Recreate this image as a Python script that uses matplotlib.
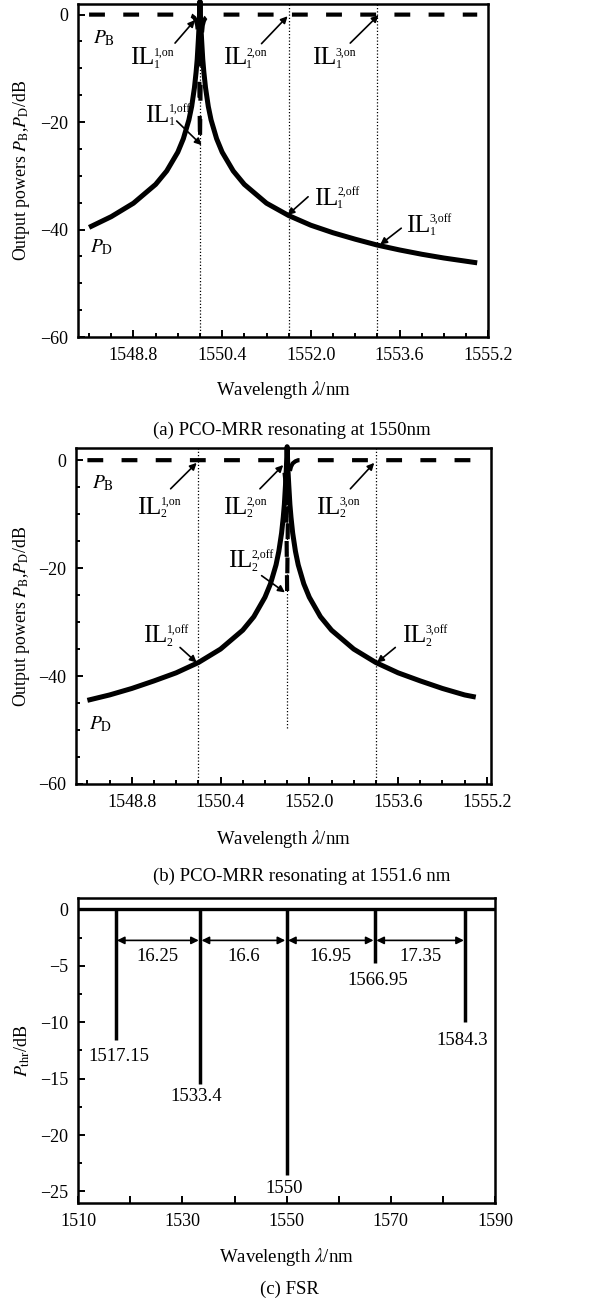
import matplotlib
matplotlib.use('Agg')
import matplotlib.pyplot as plt
from matplotlib.ticker import MultipleLocator, FuncFormatter

plt.rcParams['font.family'] = ['Liberation Serif', 'DejaVu Serif']
plt.rcParams['mathtext.fontset'] = 'stix'
plt.rcParams['font.size'] = 13
plt.rcParams['axes.unicode_minus'] = True

# (a) resonance at 1550 nm
wl_a = [1548.0, 1548.4, 1548.8, 1549.2, 1549.4, 1549.6, 1549.7, 1549.8, 1549.85, 1549.9,
        1549.93, 1549.95, 1549.97, 1549.985, 1550.0, 1550.015, 1550.03, 1550.05, 1550.07,
        1550.1, 1550.15, 1550.2, 1550.3, 1550.4, 1550.6, 1550.8, 1551.2, 1551.6, 1552.0,
        1552.4, 1552.8, 1553.2, 1553.6, 1554.0, 1554.4, 1554.8, 1555.0]
pd_a = [-39.6, -37.6, -35.1, -31.6, -29.1, -25.6, -23.1, -19.6, -17.1, -13.6,
        -10.7, -8.3, -4.8, -1.8, 2.5, -1.8, -4.8, -8.3, -10.7,
        -13.6, -17.1, -19.6, -23.1, -25.6, -29.1, -31.6, -35.1, -37.4, -39.2,
        -40.6, -41.8, -42.9, -43.8, -44.6, -45.3, -45.9, -46.2]
pb_a = [0, 0, 0, 0, 0, 0, 0, 0, -0.2, -0.6,
        -1.2, -2.0, -4.0, -9.0, -23.8, -9.0, -4.0, -2.0, -1.2,
        -0.6, -0.2, 0, 0, 0, 0, 0, 0, 0, 0,
        0, 0, 0, 0, 0, 0, 0, 0]
marks_a = [1550.0, 1551.6, 1553.2]

# (b) resonance at 1551.6 nm
wl_b = [1548.0, 1548.4, 1548.8, 1549.2, 1549.6, 1550.0, 1550.4, 1550.8, 1551.0, 1551.2,
        1551.3, 1551.4, 1551.45, 1551.5, 1551.53, 1551.55, 1551.57, 1551.585, 1551.6,
        1551.615, 1551.63, 1551.65, 1551.67, 1551.7, 1551.75, 1551.8, 1551.9, 1552.0,
        1552.2, 1552.4, 1552.8, 1553.2, 1553.6, 1554.0, 1554.4, 1554.8, 1555.0]
pd_b = [-44.5, -43.5, -42.3, -40.9, -39.4, -37.5, -35.0, -31.5, -29.0, -25.4,
        -22.9, -19.4, -16.9, -13.5, -10.6, -8.2, -4.7, -1.8, 2.5,
        -1.8, -4.7, -8.2, -10.6, -13.5, -16.9, -19.4, -22.9, -25.4,
        -29.0, -31.5, -35.0, -37.5, -39.4, -40.9, -42.3, -43.5, -43.9]
pb_b = [0, 0, 0, 0, 0, 0, 0, 0, 0, 0,
        0, 0, -0.2, -0.6, -1.2, -2.0, -4.0, -9.0, -24.3,
        -9.0, -4.0, -2.0, -1.2, -0.6, -0.2, 0, 0, 0,
        0, 0, 0, 0, 0, 0, 0, 0, 0]
marks_b = [1550.0, 1551.6, 1553.2]
marks_b_low = [-60, -49.7, -60]

# (c) FSR
res_c = [1517.15, 1533.4, 1550.0, 1566.95, 1584.3]
depth_c = [-11.6, -15.5, -23.5, -4.75, -10.0]
res_labels = ['1517.15', '1533.4', '1550', '1566.95', '1584.3']
fsr_c = ['16.25', '16.6', '16.95', '17.35']
lab_x = [1517.8, 1532.7, 1549.5, 1567.4, 1583.7]
lab_y = [-13.0, -16.6, -24.7, -6.3, -11.6]

fig = plt.figure(figsize=(5.93, 13.10), dpi=100)
W, H = 593.0, 1310.0


def rect(l, r, t, b):
    return [l / W, 1 - b / H, (r - l) / W, (b - t) / H]


def style(ax):
    for s in ax.spines.values():
        s.set_linewidth(1.8)
    ax.tick_params(which='both', direction='in', top=False, right=False, width=1.4)
    ax.tick_params(which='major', length=5, labelsize=13, pad=7)
    ax.tick_params(which='minor', length=3)


def il(ax, x, y, sub, sup, tail, head):
    ax.text(x, y, 'IL', fontsize=18.5, ha='left', va='baseline')
    ax.annotate(sup, (x, y), xytext=(17, 6.3), textcoords='offset points',
                fontsize=8.5, va='baseline')
    ax.annotate(sub, (x, y), xytext=(17, -2.5), textcoords='offset points',
                fontsize=8.5, va='baseline')
    ax.annotate('', xy=head, xytext=tail,
                arrowprops=dict(arrowstyle='-|>', color='k', lw=1.2,
                                mutation_scale=10, shrinkA=0, shrinkB=0))


def resonance_panel(ax, wl, pd, pb, top, xr):
    ax.plot(wl, pd, color='k', lw=3.6, solid_capstyle='butt', clip_on=False, zorder=3)
    ax.plot(wl, pb, color='k', lw=3.0, dashes=(3.8, 4.4), dash_capstyle='butt', zorder=4)
    ax.set_xlim(1547.8, xr)
    ax.set_ylim(-60, top)
    ax.xaxis.set_major_locator(MultipleLocator(1.6))
    ax.xaxis.set_minor_locator(MultipleLocator(0.4))
    ax.xaxis.set_major_formatter(FuncFormatter(lambda v, p: '%.1f' % v))
    ax.yaxis.set_major_locator(MultipleLocator(20))
    ax.yaxis.set_minor_locator(MultipleLocator(5))
    style(ax)
    ax.set_xlabel(r'Wavelength $\lambda$/nm', fontsize=13.5)
    ax.set_ylabel(r'Output powers $P_\mathrm{B}$,$P_\mathrm{D}$/dB', fontsize=12.8)


dot = (0, (1, 1.6))

# panel (a)
ax1 = fig.add_axes(rect(78, 488.3, 4.3, 337))
resonance_panel(ax1, wl_a, pd_a, pb_a, 1.92, 1555.2)
ax1.vlines(marks_a, -60, 1.92, colors='k', lw=0.9, linestyles=dot, zorder=2)
ax1.xaxis.set_label_coords(0.5, -0.125)
ax1.yaxis.set_label_coords(-0.112, 0.5)
ax1.text(1548.07, -5.4, r'$P_\mathrm{B}$', fontsize=14)
ax1.text(1548.01, -44.3, r'$P_\mathrm{D}$', fontsize=14)
il(ax1, 1548.74, -9.2, '1', '1,on', (1549.55, -5.3), (1549.91, -1.0))
il(ax1, 1550.41, -9.2, '1', '2,on', (1551.11, -5.4), (1551.58, -0.3))
il(ax1, 1552.02, -9.2, '1', '3,on', (1552.71, -5.3), (1553.22, -0.1))
il(ax1, 1549.01, -19.9, '1', '1,off', (1549.58, -19.8), (1550.03, -24.3))
il(ax1, 1552.05, -35.4, '1', '2,off', (1551.95, -33.9), (1551.58, -37.3))
il(ax1, 1553.72, -40.4, '1', '3,off', (1553.63, -39.75), (1553.25, -42.8))

# panel (b)
ax2 = fig.add_axes(rect(76.3, 491.3, 448.3, 784))
resonance_panel(ax2, wl_b, pd_b, pb_b, 2.2, 1555.28)
ax2.vlines(marks_b, marks_b_low, 2.2, colors='k', lw=0.9, linestyles=dot, zorder=2)
ax2.xaxis.set_label_coords(0.5, -0.13)
ax2.yaxis.set_label_coords(-0.106, 0.5)
ax2.text(1548.08, -5.3, r'$P_\mathrm{B}$', fontsize=14)
ax2.text(1548.02, -49.8, r'$P_\mathrm{D}$', fontsize=14)
il(ax2, 1548.9, -9.9, '2', '1,on', (1549.5, -5.3), (1549.97, -0.5))
il(ax2, 1550.44, -9.9, '2', '2,on', (1551.11, -5.3), (1551.53, -0.9))
il(ax2, 1552.12, -9.9, '2', '3,on', (1552.74, -5.3), (1553.17, -0.5))
il(ax2, 1550.53, -19.8, '2', '2,off', (1551.14, -21.4), (1551.56, -24.5))
il(ax2, 1549.0, -33.7, '2', '1,off', (1549.67, -34.7), (1549.97, -37.5))
il(ax2, 1553.67, -33.7, '2', '3,off', (1553.55, -34.7), (1553.22, -37.5))

# panel (c)
ax3 = fig.add_axes(rect(78.3, 495, 898.3, 1203.3))
ax3.axhline(0, color='k', lw=2.4)
ax3.vlines(res_c, depth_c, 0, colors='k', lw=2.5)
for i in range(len(fsr_c)):
    ax3.annotate('', xy=(res_c[i + 1], -2.75), xytext=(res_c[i], -2.75),
                 arrowprops=dict(arrowstyle='<|-|>', color='k', lw=1.2,
                                 mutation_scale=11, shrinkA=1, shrinkB=1))
    ax3.text((res_c[i] + res_c[i + 1]) / 2, -4.2, fsr_c[i], ha='center', va='center',
             fontsize=13.5)
for x, y, s in zip(lab_x, lab_y, res_labels):
    ax3.text(x, y, s, ha='center', va='center', fontsize=13.5)
ax3.set_xlim(1510, 1590)
ax3.set_ylim(-26.05, 0.98)
ax3.xaxis.set_major_locator(MultipleLocator(10))
ax3.xaxis.set_major_formatter(FuncFormatter(
    lambda v, p: '%d' % round(v) if round(v - 1510) % 20 == 0 else ''))
ax3.yaxis.set_major_locator(MultipleLocator(5))
ax3.yaxis.set_minor_locator(MultipleLocator(2.5))
style(ax3)
ax3.set_xlabel(r'Wavelength $\lambda$/nm', fontsize=13.5)
ax3.set_ylabel(r'$P_\mathrm{thr}$/dB', fontsize=13)
ax3.xaxis.set_label_coords(0.5, -0.14)
ax3.yaxis.set_label_coords(-0.111, 0.5)

fig.text(291.5 / W, 1 - 430 / H, '(a) PCO-MRR resonating at 1550nm', ha='center',
         va='center', fontsize=13.5)
fig.text(301.5 / W, 1 - 876 / H, '(b) PCO-MRR resonating at 1551.6 nm', ha='center',
         va='center', fontsize=13.5)
fig.text(289 / W, 1 - 1289 / H, '(c) FSR', ha='center', va='center', fontsize=13.5)

fig.savefig('out.png', dpi=100)
